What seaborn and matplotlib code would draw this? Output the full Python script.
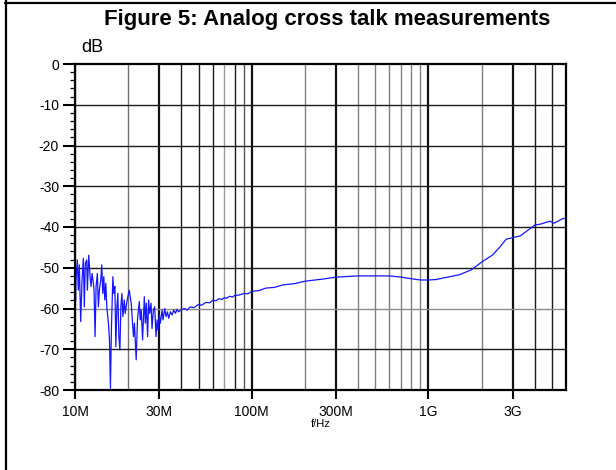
import matplotlib
matplotlib.use("Agg")
import matplotlib.pyplot as plt
from matplotlib.lines import Line2D
from matplotlib.ticker import FixedLocator, MultipleLocator, NullFormatter
import numpy as np
import pandas as pd
import seaborn as sns

# ---------------- data ----------------
freq_mhz = [
    10.00, 10.07, 10.13, 10.31, 10.44, 10.58, 10.77, 10.96, 11.15, 11.29,
    11.44, 11.65, 11.75, 11.96, 12.17, 12.33, 12.49, 12.71, 12.82, 12.99,
    13.16, 13.38, 13.56, 13.74, 13.99, 14.17, 14.36, 14.55, 14.74, 14.94,
    15.13, 15.46, 15.67, 15.87, 16.08, 16.38, 16.59, 16.81, 17.03, 17.26,
    17.48, 17.71, 17.95, 18.18, 18.42, 18.67, 18.99, 19.23, 19.66, 20.26,
    20.80, 21.42, 21.70, 22.19, 22.57, 23.10, 23.40, 23.71, 24.12, 24.67,
    24.99, 25.32, 25.75, 26.09, 26.43, 26.92, 27.28, 27.75, 28.23, 28.75,
    29.13, 29.51, 30.00, 30.40, 31.08, 31.49, 32.17, 32.77, 33.33, 33.91,
    34.66, 35.45, 36.19, 37.02, 37.77, 38.54, 40.33, 41.75,
    43, 45, 47, 50, 52, 55, 58, 60, 63, 65, 68, 70, 72, 75, 78, 80, 85,
    90, 95, 100, 110, 120, 135, 150, 175, 200, 250, 300,
    400, 500, 600, 700, 800, 900, 1000, 1100, 1250, 1500, 1750, 2000,
    2300, 2550, 2750, 3000, 3300, 3600, 4000, 4300, 4600, 4900, 5100,
    5400, 5700, 6000,
]
crosstalk_db = [
    -46.1, -58.3, -53.0, -48.1, -55.5, -49.3, -63.2, -53.0, -47.7, -59.6,
    -48.9, -48.1, -55.5, -46.9, -52.2, -54.6, -51.4, -53.8, -55.5, -66.9,
    -54.6, -51.4, -59.6, -55.5, -53.0, -49.3, -56.3, -52.2, -57.9, -53.8,
    -59.6, -63.6, -67.7, -79.6, -64.5, -52.2, -56.3, -54.6, -69.4, -59.6,
    -56.3, -66.9, -70.2, -59.6, -56.3, -62.0, -57.9, -61.2, -58.3, -55.5,
    -58.7, -66.9, -63.6, -72.6, -62.8, -58.3, -62.8, -60.4, -67.7, -57.1,
    -63.6, -58.7, -66.9, -57.9, -61.2, -58.7, -64.9, -60.4, -59.6, -66.9,
    -62.8, -65.3, -61.6, -63.6, -60.4, -62.8, -60.0, -62.0, -60.8, -62.4,
    -60.8, -61.6, -60.4, -61.2, -60.2, -60.8, -60.2, -60.0,
    -60.4, -59.6, -59.8, -59.0, -59.2, -58.5, -58.6, -58.0, -58.1, -57.6,
    -57.8, -57.3, -57.5, -57.0, -57.2, -56.8, -56.7,
    -56.3, -56.4, -55.8, -55.6, -55.0, -54.8, -54.2, -53.9, -53.3, -52.8, -52.3,
    -52.0, -52.0, -52.0, -52.3, -52.7,
    -53.0, -53.0, -52.9, -52.4, -51.7, -50.5, -48.6, -46.9, -44.8, -43.0,
    -42.6, -42.2, -41.0, -39.5, -39.3, -38.9, -38.6, -39.1, -38.6, -38.0,
    -37.8,
]

x_tick_hz = [10e6, 30e6, 100e6, 300e6, 1e9, 3e9]
x_tick_labels = ["10M", "30M", "100M", "300M", "1G", "3G"]
y_ticks = [0, -10, -20, -30, -40, -50, -60, -70, -80]
y_tick_labels = ["0", "-10", "-20", "-30", "-40", "-50", "-60", "-70", "-80"]

# vertical grid: (frequency, colour)
vgrid_hz = [20e6, 40e6, 50e6, 60e6, 70e6, 80e6, 90e6,
            200e6, 400e6, 500e6, 600e6, 700e6, 800e6, 900e6,
            2e9, 4e9, 5e9]
vgrid_col = ["#707070", "#1a1a1a", "#1a1a1a", "#1a1a1a", "#9a9a9a", "#1a1a1a", "#555555",
             "#808080", "#808080", "#808080", "#808080", "#808080", "#808080", "#808080",
             "#808080", "#1a1a1a", "#1a1a1a"]
hgrid_db = [-10, -20, -30, -40, -50, -60, -70]
hgrid_col = ["#1a1a1a", "#1a1a1a", "#1a1a1a", "#1a1a1a", "#1a1a1a", "#8a8a8a", "#1a1a1a"]

df = pd.DataFrame({"f": np.array(freq_mhz) * 1e6, "dB": crosstalk_db})

# ---------------- figure ----------------
sns.set_style("white")
plt.rcParams["font.family"] = ["Liberation Sans", "DejaVu Sans"]
plt.rcParams["text.color"] = "black"
plt.rcParams["xtick.color"] = "black"
plt.rcParams["ytick.color"] = "black"
plt.rcParams["xtick.labelcolor"] = "black"
plt.rcParams["ytick.labelcolor"] = "black"

fig = plt.figure(figsize=(6.16, 4.70), dpi=100)
ax = fig.add_axes([75 / 616, 1 - 390 / 470, (566 - 75) / 616, (390 - 64) / 470])

for f, c in zip(vgrid_hz, vgrid_col):
    ax.axvline(f, color=c, lw=1.0, zorder=1)
for f in x_tick_hz:
    ax.axvline(f, color="#111111", lw=1.6, zorder=1)
for d, c in zip(hgrid_db, hgrid_col):
    ax.axhline(d, color=c, lw=1.0, zorder=1)

sns.lineplot(data=df, x="f", y="dB", ax=ax, color="#1515ff", lw=0.9,
             estimator=None, sort=False, zorder=3)

ax.set_xscale("log")
ax.set_xlim(10e6, 6e9)
ax.set_ylim(-80, 0)

ax.xaxis.set_major_locator(FixedLocator(x_tick_hz))
ax.set_xticklabels(x_tick_labels)
ax.xaxis.set_minor_locator(FixedLocator([]))
ax.xaxis.set_minor_formatter(NullFormatter())
ax.yaxis.set_major_locator(FixedLocator(y_ticks))
ax.set_yticklabels(y_tick_labels)
ax.yaxis.set_minor_locator(MultipleLocator(2))

ax.tick_params(axis="x", which="major", direction="out", length=6.5, width=1.5,
               color="black", labelcolor="black", pad=4, labelsize=10, bottom=True)
ax.tick_params(axis="y", which="major", direction="out", length=8.5, width=1.5,
               color="black", labelcolor="black", pad=3, labelsize=10, left=True)
ax.tick_params(axis="y", which="minor", direction="out", length=3.5, width=0.9,
               color="black", left=True)

for s in ax.spines.values():
    s.set_visible(True)
    s.set_color("black")
    s.set_linewidth(1.6)
    s.set_zorder(4)

ax.set_xlabel("")
ax.set_ylabel("")

fig.text(327 / 616, 1 - 19 / 470, "Figure 5: Analog cross talk measurements",
         ha="center", va="center", fontsize=16, fontweight="bold", color="black")
fig.text(92 / 616, 1 - 47 / 470, "dB", ha="center", va="center", fontsize=13,
         color="black")
fig.text(321 / 616, 1 - 424 / 470, "f/Hz", ha="center", va="center", fontsize=8,
         color="black")

fig.add_artist(Line2D([5.5 / 616, 5.5 / 616], [0, 1], transform=fig.transFigure,
                      color="black", lw=1.6))
fig.add_artist(Line2D([4.5 / 616, 1], [1 - 2.5 / 470, 1 - 2.5 / 470],
                      transform=fig.transFigure, color="black", lw=1.6))

fig.savefig("out.png", dpi=100, facecolor="white")
